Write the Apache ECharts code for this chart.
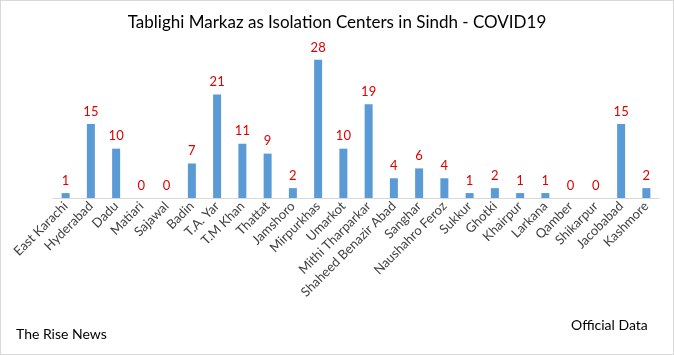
<!DOCTYPE html>
<html><head><meta charset="utf-8">
<script src="https://cdn.jsdelivr.net/npm/echarts@6/dist/echarts.min.js"></script>
<style>
html,body{margin:0;padding:0;background:#fff;}
#c{width:674px;height:355px;box-sizing:border-box;border:1px solid #d9d9d9;}
</style></head>
<body><div id="c"></div>
<script>
const titleText = 'Tablighi Markaz as Isolation Centers in Sindh - COVID19';
const categories = ['East Karachi','Hyderabad','Dadu','Matiari','Sajawal','Badin','T.A. Yar','T.M Khan','Thattat','Jamshoro','Mirpurkhas','Umarkot','Mithi Tharparkar','Shaheed Benazir Abad','Sanghar','Naushahro Feroz','Sukkur','Ghotki','Khairpur','Larkana','Qamber','Shikarpur','Jacobabad','Kashmore'];
const values = [1,15,10,0,0,7,21,11,9,2,28,10,19,4,6,4,1,2,1,1,0,0,15,2];
const footLeft = 'The Rise News';
const footRight = 'Official Data';

const chart = echarts.init(document.getElementById('c'));
const font = 'Lato, "Open Sans", sans-serif';
chart.setOption({
  animation:false,
  title:{text:titleText,left:'center',top:8,textStyle:{fontFamily:font,fontSize:17,fontWeight:'normal',color:'#000'}},
  grid:{left:52,right:14,top:49,bottom:156,containLabel:false},
  xAxis:{type:'category',data:categories,
    axisLine:{lineStyle:{color:'#d9d9d9'}},axisTick:{show:false},
    axisLabel:{rotate:45,interval:0,fontFamily:font,fontSize:13,color:'#404040',margin:6}},
  yAxis:{type:'value',min:0,max:30,show:false,splitLine:{show:false}},
  series:[{type:'bar',data:values,barWidth:8,itemStyle:{color:'#5b9bd5'},
    label:{show:true,position:'top',distance:6,color:'#e00000',fontFamily:font,fontSize:13}}],
  graphic:[
    {type:'text',left:15,top:326,style:{text:footLeft,font:'14px '+font,fill:'#000'}},
    {type:'text',left:570,top:317,style:{text:footRight,font:'14px '+font,fill:'#000'}}
  ]
});
</script></body></html>
